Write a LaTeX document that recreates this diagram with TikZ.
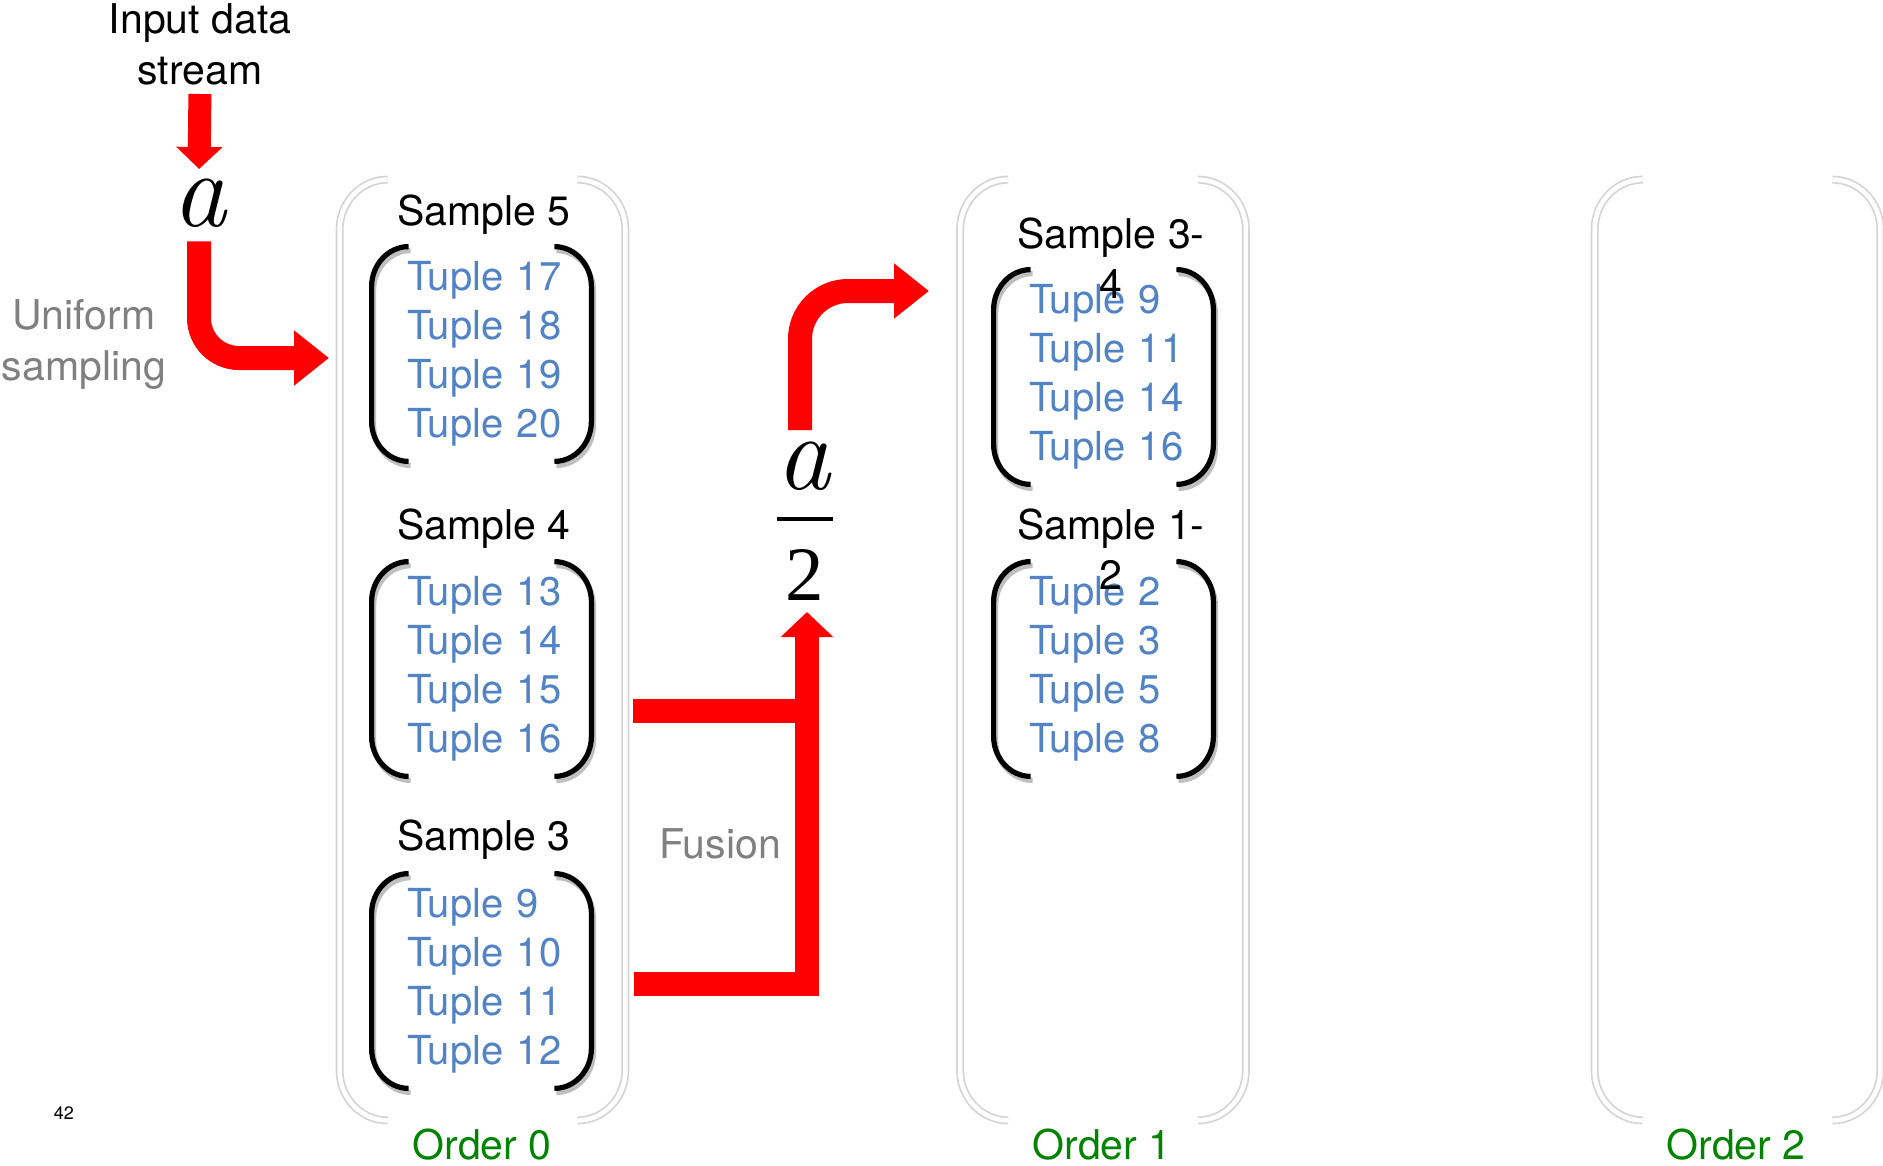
\documentclass[tikz,border=0pt]{standalone}
\usepackage{fontspec}
\setmainfont{TeX Gyre Heros}
\newfontfamily\symfont{Liberation Serif}
\newfontfamily\varfont{Latin Modern Roman}
\usetikzlibrary{arrows.meta,calc}

\definecolor{tupleblue}{RGB}{82,131,197}
\definecolor{ordergreen}{RGB}{0,132,0}
\definecolor{notegray}{RGB}{128,128,128}
\definecolor{framegray}{RGB}{212,212,212}
\definecolor{flowred}{RGB}{255,0,0}

% a pair of rounded brackets around a node: #1 node, #2 tick length, #3 corner height
\newcommand{\bracketpair}[3]{%
  ($(#1.north west)+(#2,0)$) .. controls ($(#1.north west)+(0.45*#2,0)$) and ($(#1.north west)+(0,0.45*#3)$) .. ($(#1.north west)+(0,#3)$)
  -- ($(#1.south west)+(0,-#3)$) .. controls ($(#1.south west)+(0,-0.45*#3)$) and ($(#1.south west)+(0.45*#2,0)$) .. ($(#1.south west)+(#2,0)$)
  ($(#1.north east)+(-#2,0)$) .. controls ($(#1.north east)+(-0.45*#2,0)$) and ($(#1.north east)+(0,0.45*#3)$) .. ($(#1.north east)+(0,#3)$)
  -- ($(#1.south east)+(0,-#3)$) .. controls ($(#1.south east)+(0,-0.45*#3)$) and ($(#1.south east)+(-0.45*#2,0)$) .. ($(#1.south east)+(-#2,0)$)}

\begin{document}
\begin{tikzpicture}[x=0.5pt,y=-0.5pt,
  basefont/.style={font=\fontsize{20.5}{25.5}\selectfont},
  colbox/.style={minimum width=142.5pt,minimum height=470pt,inner sep=0pt},
  tuplebox/.style={font=\fontsize{20}{24.5}\selectfont,text=tupleblue,align=left,
    text width=74.5pt,inner xsep=17.5pt,inner ysep=0pt,minimum width=109.5pt,minimum height=107pt},
  sampletitle/.style={inner sep=0pt,align=center,font=\fontsize{20.5}{25}\selectfont},
  ordertag/.style={basefont,text=ordergreen,inner sep=0pt},
  note/.style={basefont,text=notegray,align=center,inner sep=0pt},
  plainlabel/.style={basefont,align=center,inner sep=0pt},
  bigsym/.style={inner sep=0pt,anchor=base,font=\fontsize{54}{54}\varfont\itshape},
  frameshade/.style={draw=framegray,line width=4pt},
  framelight/.style={draw=white,line width=2.3pt},
  parenshade/.style={draw=black!25,line width=2.6pt,transform canvas={shift={(1pt,-2pt)}}},
  paren/.style={draw=black,line width=2.6pt},
  flow/.style={draw=flowred,line width=12pt},
  flowtip/.style={-{Triangle[width=26.5pt,length=17.5pt]}}
]
\fill[white] (0,0) rectangle (1883,1166);
\useasboundingbox (0,0) rectangle (1883,1166);

% order columns
\node[colbox] (col0) at (482.5,650) {};
\node[colbox] (col1) at (1103,650) {};
\node[colbox] (col2) at (1737.5,650) {};
\foreach \c in {col0,col1,col2}{
  \draw[frameshade] \bracketpair{\c}{48}{50};
  \draw[framelight] \bracketpair{\c}{48}{50};
}
\node[ordertag] (o0) at (482,1145) {Order 0};
\node[ordertag] (o1) at (1102,1145) {Order 1};
\node[ordertag] (o2) at (1736,1145) {Order 2};

% samples of order 0
\node[sampletitle] (h5) at (484,215) {Sample 5};
\node[tuplebox] (t5) at (481.5,354) {Tuple~17\\Tuple~18\\Tuple~19\\Tuple~20};
\node[sampletitle] (h4) at (484,529) {Sample 4};
\node[tuplebox] (t4) at (481.5,669) {Tuple~13\\Tuple~14\\Tuple~15\\Tuple~16};
\node[sampletitle] (h3) at (484,840) {Sample 3};
\node[tuplebox] (t3) at (481.5,981) {Tuple~9\\Tuple~10\\Tuple~11\\Tuple~12};

% samples of order 1
\node[tuplebox] (t34) at (1103.5,377) {Tuple~9\\Tuple~11\\Tuple~14\\Tuple~16};
\node[sampletitle] (h34) at (1111,258) {Sample 3-\\4};
\node[tuplebox] (t12) at (1103.5,669) {Tuple~2\\Tuple~3\\Tuple~5\\Tuple~8};
\node[sampletitle] (h12) at (1111,549) {Sample 1-\\2};

\foreach \t in {t5,t4,t3,t34,t12}{
  \draw[parenshade] \bracketpair{\t}{37}{40};
  \draw[paren] \bracketpair{\t}{37}{40};
}

% input and sampling
\node[plainlabel,anchor=south] (inlabel) at (200,86) {Input data\\stream};
\node[bigsym] (sym) at (199,227) {a};
\node[note] (uniform) at (84,344) {Uniform\\sampling};
\coordinate (sampletip) at (329,358);
\draw[flow,line width=11.5pt,-{Triangle[width=22.5pt,length=11pt]},shorten <=4pt,shorten >=5pt]
  (inlabel.south) -- (sym.north);
\draw[flow,flowtip,rounded corners=20pt,shorten <=6.5pt] (sym.south) |- (sampletip);

% fusion
\node[note] (fusion) at (720,844) {Fusion};
\node[bigsym] (fracnum) at (803,489) {a};
\node[inner sep=0pt,anchor=base,font=\fontsize{38.5}{38.5}\symfont] (fracden) at (805,600) {2};
\coordinate (barleft) at (777,519);
\coordinate (barright) at (833,519);
\draw[line width=2pt] (barleft) -- (barright);

\coordinate (fuseupper) at (633,711);
\coordinate (fuselower) at (634,984);
\coordinate (fusetip) at (807,612);
\coordinate (fusejoin) at (807,711);
\draw[flow,line join=miter,-{Triangle[width=25.5pt,length=12.5pt]}] (fuselower) -| (fusetip);
\draw[flow] (fuseupper) -- ([xshift=6pt]fusejoin);

\coordinate (splitfoot) at (800,430);
\coordinate (splittip) at (929,291);
\draw[flow,flowtip,rounded corners=24pt] (splitfoot) |- (splittip);

% page number
\node[inner sep=0pt,font=\fontsize{9}{9}\selectfont] (pageno) at (64,1113) {42};
\end{tikzpicture}
\end{document}
